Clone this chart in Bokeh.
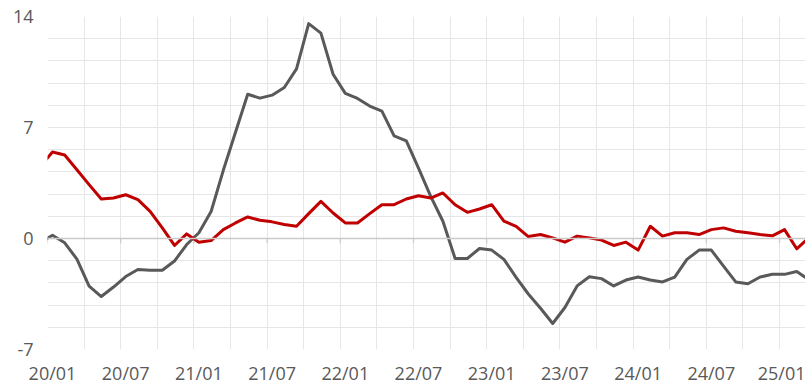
from bokeh.plotting import figure
from bokeh.models import FixedTicker, Range1d, Span, ColumnDataSource
from bokeh.embed import file_html
from bokeh.resources import INLINE

# month index: 0 = 2020/01 ; -1 = 2019/12 ; 62 = 2025/03
months = list(range(-1, 63))

tick_pos = [0, 6, 12, 18, 24, 30, 36, 42, 48, 54, 60]
tick_labels = ["20/01", "20/07", "21/01", "21/07", "22/01", "22/07",
               "23/01", "23/07", "24/01", "24/07", "25/01"]
y_ticks = [-7, 0, 7, 14]
y_labels = ["-7", "0", "7", "14"]

grey_series = [-0.25, 0.2, -0.27, -1.3, -3.0, -3.66, -3.06, -2.4, -1.95, -2.0,
               -2.0, -1.42, -0.38, 0.36, 1.7, 4.3, 6.7, 9.1, 8.85, 9.04,
               9.52, 10.7, 13.55, 12.95, 10.36, 9.15, 8.83, 8.35, 8.03, 6.47,
               6.15, 4.44, 2.66, 1.09, -1.26, -1.26, -0.63, -0.73, -1.32, -2.45,
               -3.5, -4.4, -5.36, -4.35, -2.99, -2.41, -2.53, -2.99, -2.62, -2.43,
               -2.62, -2.74, -2.43, -1.32, -0.73, -0.73, -1.74, -2.74, -2.85, -2.43,
               -2.26, -2.26, -2.08, -2.6]

red_series = [4.55, 5.45, 5.27, 4.34, 3.4, 2.49, 2.55, 2.76, 2.45, 1.71,
              0.67, -0.44, 0.29, -0.23, -0.13, 0.56, 0.98, 1.36, 1.15, 1.05,
              0.88, 0.77, 1.57, 2.34, 1.61, 0.98, 0.98, 1.57, 2.13, 2.13,
              2.49, 2.70, 2.55, 2.87, 2.13, 1.65, 1.86, 2.13, 1.09, 0.77,
              0.12, 0.25, 0.04, -0.23, 0.15, 0.04, -0.1, -0.44, -0.23, -0.73,
              0.77, 0.15, 0.36, 0.36, 0.25, 0.56, 0.67, 0.46, 0.36, 0.25,
              0.17, 0.56, -0.65, 0.05]

src = ColumnDataSource(dict(m=months, grey=grey_series, red=red_series))

x_start = -0.41
x_end = 61.72

p = figure(width=805, height=387, output_backend="svg", toolbar_location=None,
           x_range=Range1d(x_start, x_end), y_range=Range1d(-7, 14),
           min_border_left=47, min_border_right=0, min_border_top=16,
           min_border_bottom=20)
p.outline_line_color = None
p.background_fill_color = "white"
p.border_fill_color = "white"

# grids
p.xgrid.ticker = FixedTicker(ticks=[x_start + 3 * k for k in range(21)])
p.ygrid.ticker = FixedTicker(ticks=[-7 + 1.4 * k for k in range(16)])
p.xgrid.grid_line_color = "#E6E6E6"
p.ygrid.grid_line_color = "#E6E6E6"
p.xgrid.grid_line_width = 1
p.ygrid.grid_line_width = 1

# axes
for ax in (p.xaxis, p.yaxis):
    ax.axis_line_color = None
    ax.major_tick_line_color = None
    ax.minor_tick_line_color = None
    ax.major_tick_out = 0
    ax.major_tick_in = 0
    ax.minor_tick_out = 0
    ax.minor_tick_in = 0
    ax.major_label_text_font = "Open Sans"
    ax.major_label_text_font_size = "18px"
    ax.major_label_text_color = "#595959"

p.xaxis.ticker = FixedTicker(ticks=tick_pos)
p.xaxis.major_label_overrides = {t: l for t, l in zip(tick_pos, tick_labels)}
p.xaxis.major_label_standoff = 11
p.yaxis.ticker = FixedTicker(ticks=y_ticks)
p.yaxis.major_label_overrides = {t: l for t, l in zip(y_ticks, y_labels)}
p.yaxis.major_label_standoff = 14

# zero line with small ticks
p.add_layout(Span(location=0, dimension="width", line_color="#CACACA", line_width=1.3))
tick_b = [t + x_start for t in tick_pos]
p.segment(x0=tick_b, y0=[0] * len(tick_b), x1=tick_b, y1=[-0.3] * len(tick_b),
          line_color="#CACACA", line_width=1.2)

p.line("m", "grey", source=src, line_color="#595959", line_width=3, line_join="round")
p.line("m", "red", source=src, line_color="#C00000", line_width=3, line_join="round")

open("out.html", "w").write(file_html(p, INLINE))
